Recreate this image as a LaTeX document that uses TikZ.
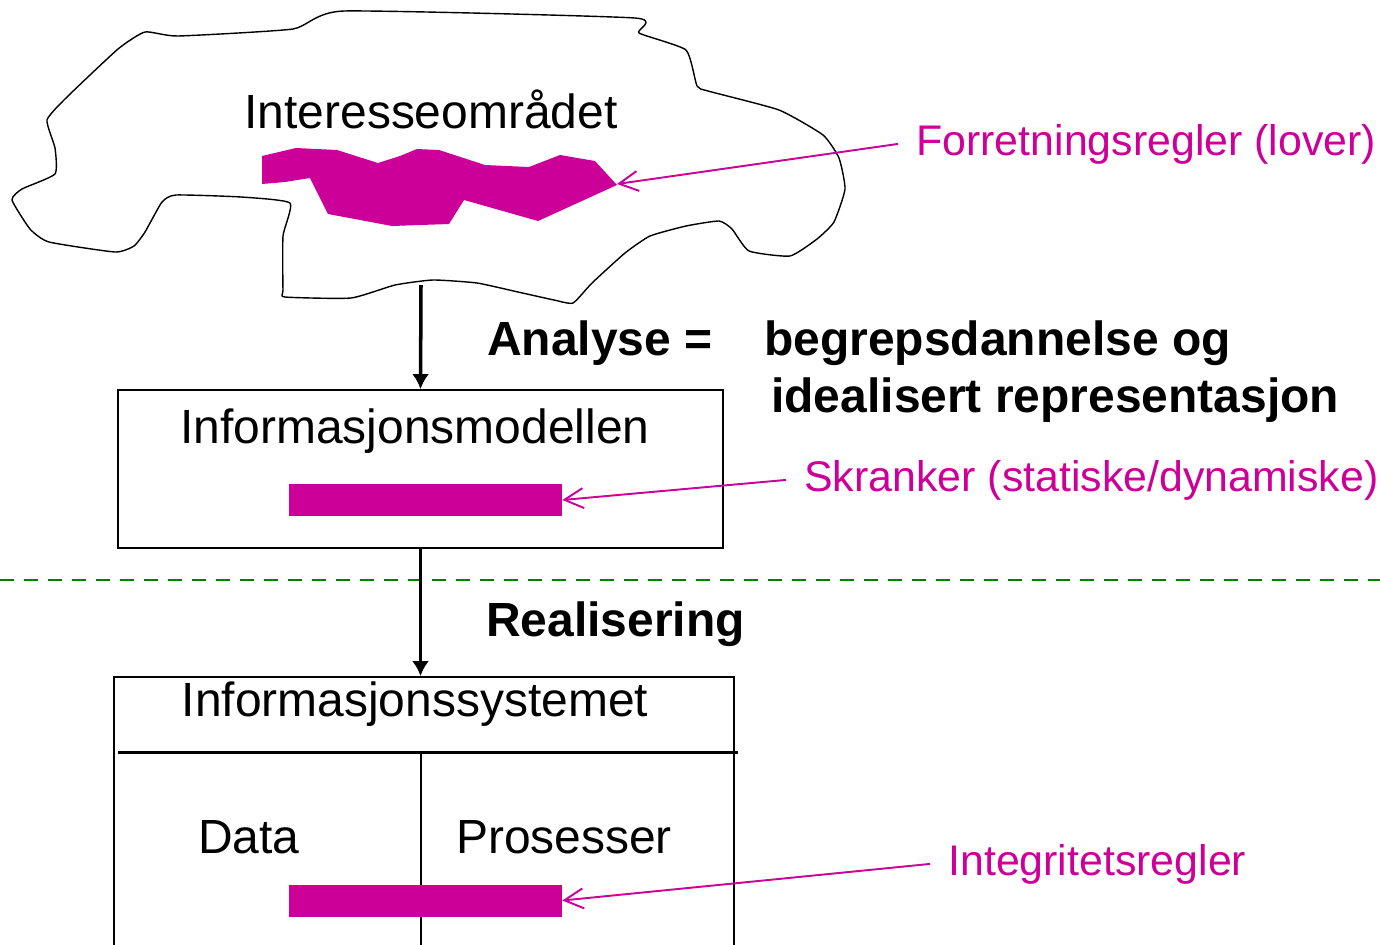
\documentclass[tikz,border=0pt]{standalone}
\usepackage{fontspec}
\setmainfont{Liberation Sans}
\usetikzlibrary{arrows.meta}
\definecolor{rulepink}{RGB}{204,0,153}
\definecolor{cutgreen}{RGB}{0,128,0}

\begin{document}
\begin{tikzpicture}[x=0.02cm, y=-0.02cm,
    flow/.style={line width=2pt, -{Latex[length=0.3cm,width=0.34cm]}},
    box/.style={draw, line width=1.1pt, inner sep=0pt},
    rulebar/.style={fill=rulepink, inner sep=0pt, minimum width=5.46cm, minimum height=0.64cm},
    rulearrow/.style={draw=rulepink, line width=1.1pt, -{Straight Barb[length=0.38cm,width=0.4cm]}},
    rulelabel/.style={text=rulepink, anchor=base west, font=\fontsize{24.4}{28}\selectfont, inner xsep=0.36cm, inner ysep=0pt},
    big/.style={font=\fontsize{27.3}{32}\selectfont, inner sep=0pt, anchor=base},
    bigbold/.style={font=\fontsize{27.3}{32}\selectfont\bfseries, inner sep=0pt, anchor=base west}]
    \useasboundingbox (0,0) rectangle (1380,944);

    % Interesseomraadet:
    \draw[line width=0.8pt, line join=round] plot[smooth cycle, tension=0.3] coordinates {
        (344,11) (635,18) (639,33) (686,50) (697,86) (708,91) (779,110)
        (823,135) (839,158) (845,189) (834,222) (817,239) (790,256)
        (749,251) (732,229) (719,221) (686,226) (650,236) (625,253)
        (592,283) (573,303) (554,300) (518,292) (477,283) (433,280)
        (395,285) (351,298) (285,297) (283,290) (283,236) (290,203)
        (241,197) (176,195) (162,202) (145,232) (134,246) (115,252)
        (49,242) (30,229) (12,200) (22,189) (55,174) (55,148) (47,120)
        (66,98) (118,49) (145,32) (178,36) (293,29)};
    \fill[rulepink] (262,156) -- (296,148) -- (337,150) -- (378,163) -- (400,156)
        -- (417,149) -- (439,150) -- (485,165) -- (529,167) -- (560,155)
        -- (595,161) -- (617,185) -- (538,221) -- (464,200) -- (449,224)
        -- (392,226) -- (328,214) -- (310,178) -- (285,182) -- (262,184) -- cycle;
    \coordinate (blobtip) at (617,184);
    \coordinate (cloudbot) at (421,285);
    \node[big] (omr) at (431,128) {Interesseområdet};
    \node[rulelabel] (forr) at (898,155) {Forretningsregler (lover)};
    \draw[rulearrow] (forr.west) -- (blobtip);

    % Analyse:
    \node[bigbold] (anal) at (487,355) {Analyse =};
    \node[bigbold] (begr) at (764,355) {begrepsdannelse og};
    \node[bigbold] (ideal) at (771,412) {idealisert representasjon};

    % Informasjonsmodellen:
    \node[box, minimum width=12.1cm, minimum height=3.16cm] (model) at (420.5,469) {};
    \node[big] (modtxt) at (415,443) {Informasjonsmodellen};
    \node[rulebar] (skrbar) at (425.5,500) {};
    \node[rulelabel] (skr) at (786,491) {Skranker (statiske/dynamiske)};
    \draw[rulearrow] (skr.west) -- (skrbar.east);
    \draw[flow] (cloudbot) -- (model.north);

    % Skillelinje:
    \draw[cutgreen, line width=1.1pt, dash pattern=on 0.28cm off 0.2cm] (0,580) -- (1380,580);
    \node[bigbold] (real) at (486,636) {Realisering};

    % Informasjonssystemet:
    \node[box, minimum width=12.4cm, minimum height=6.46cm] (sys) at (424,838.5) {};
    \draw[flow] (model.south) -- (model.south |- sys.north);
    \node[big] (systxt) at (415,716) {Informasjonssystemet};
    \draw[line width=1.7pt] (118,752) -- (738,752);
    \draw[line width=1.1pt] (421,752) -- (421,960);
    \node[big] (data) at (249,853) {Data};
    \node[big] (pros) at (564,853) {Prosesser};
    \node[rulebar] (intbar) at (425.5,900.5) {};
    \node[rulelabel] (integ) at (930,875) {Integritetsregler};
    \draw[rulearrow] (integ.west) -- (intbar.east);
\end{tikzpicture}
\end{document}
